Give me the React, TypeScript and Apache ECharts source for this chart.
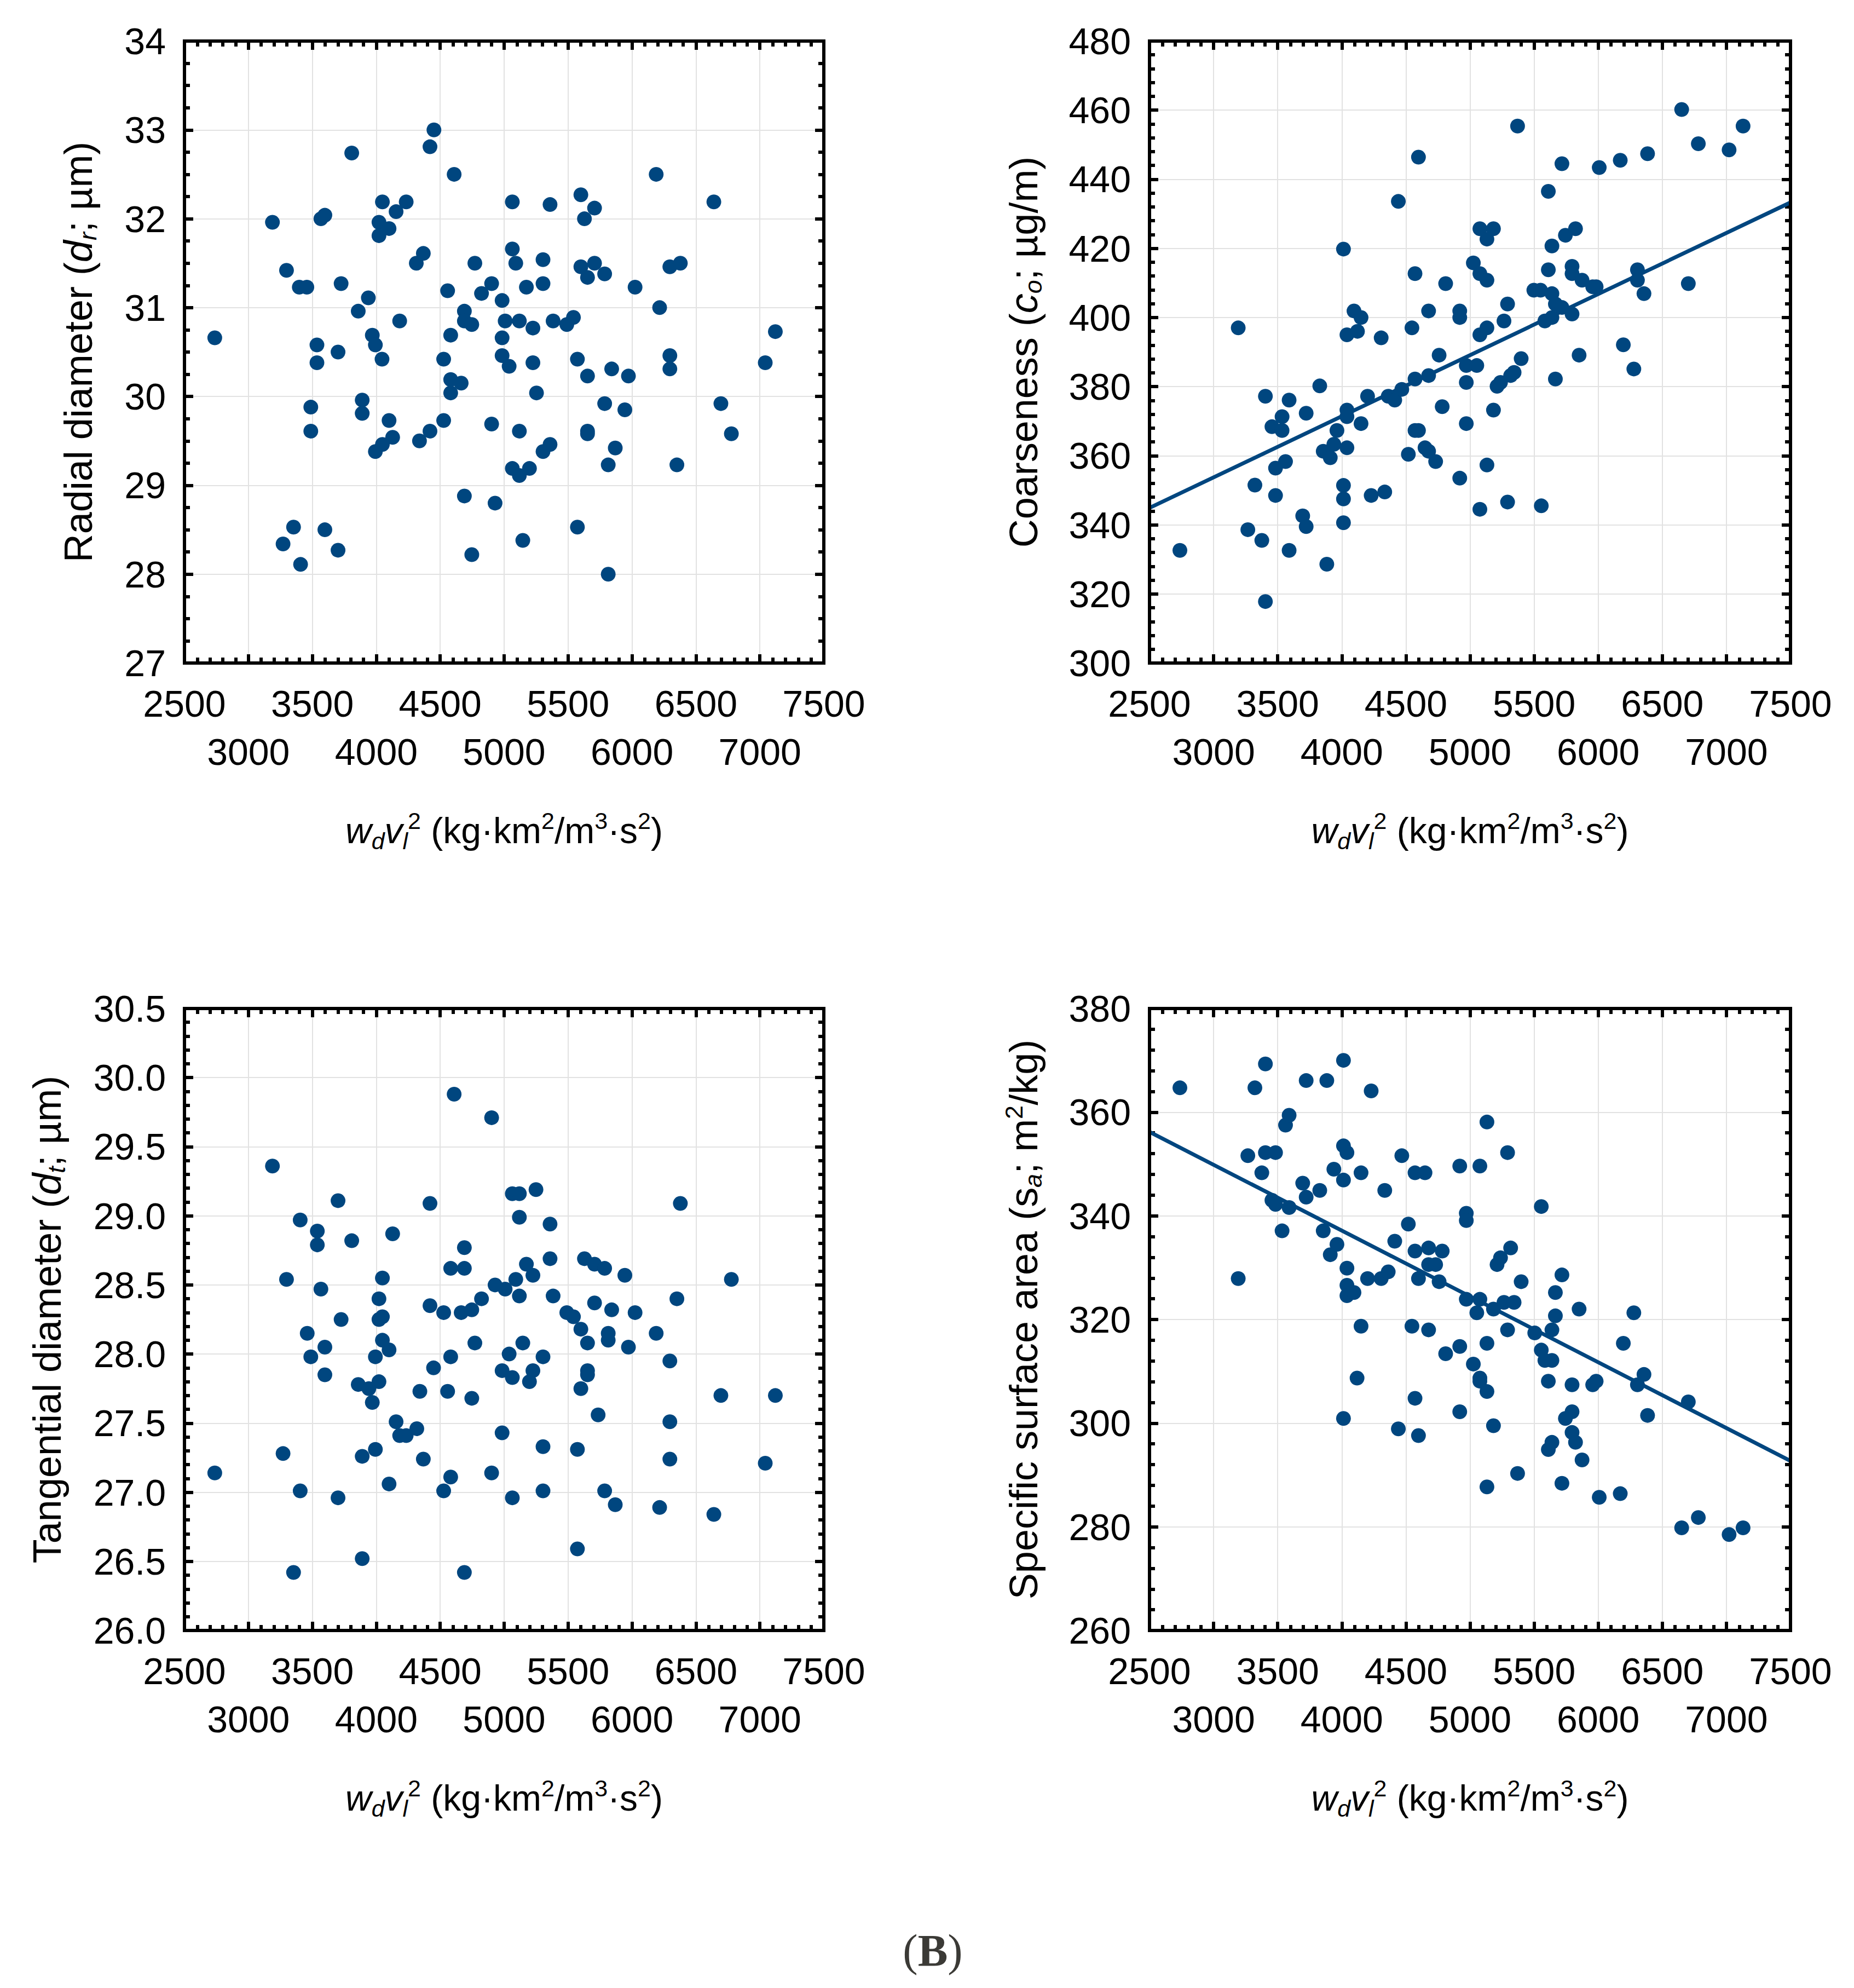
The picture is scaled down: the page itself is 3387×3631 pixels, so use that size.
import React, { useEffect, useRef } from "react";
import * as echarts from "echarts";

const FONT = "'Liberation Sans', Arial, Helvetica, sans-serif";
const SERIF = "'Liberation Serif', 'Times New Roman', serif";
const INK = "#000000";
const DOT = "#00467f";
const GRIDLINE = "#e2e2e2";

// ---------- x axis (shared) ----------
const xMin = 2500;
const xMax = 7500;
const xStep = 500;

// ---------- Radial diameter (top-left) ----------
const radialX = [
  2737, 3188, 3298, 3398, 3457, 3567, 3598, 3536, 3536, 3488,
  3488, 3353, 3271, 3408, 3598, 3701, 3701, 3725, 3808, 3859,
  3938, 3969, 3993, 4045, 3890, 3890, 4100, 4128, 4048, 3993,
  4048, 4021, 4100, 4021, 4155, 4234, 4183, 4313, 4368, 4420,
  4451, 4609, 4558, 4338, 4420, 4527, 4527, 4582, 4582, 4664,
  4582, 4689, 4689, 4747, 4771, 4823, 4902, 4984, 5008, 4984,
  4984, 5039, 5119, 5064, 5064, 5091, 5174, 5225, 5225, 5253,
  5304, 5304, 5359, 5383, 5490, 5542, 5573, 5652, 5600, 5628,
  5707, 5600, 5707, 5652, 5786, 6024, 5841, 5972, 5786, 5944,
  5652, 5652, 5869, 5814, 5814, 5573, 5359, 5304, 5119, 5064,
  5119, 5198, 4902, 4689, 4929, 4747, 5146, 6189, 6216, 6296,
  6378, 6296, 6296, 6351, 6640, 6695, 6777, 7042, 7121,
];
const radialY = [
  30.66, 31.96, 31.42, 31.23, 31.23, 32.0, 32.04, 30.58, 30.38, 29.88,
  29.61, 28.53, 28.34, 28.11, 28.5, 28.27, 30.5, 31.27, 32.74, 30.96,
  31.11, 30.69, 30.58, 30.42, 29.96, 29.81, 29.73, 29.54, 29.46, 29.38,
  32.19, 31.96, 31.89, 31.81, 32.08, 32.19, 30.85, 31.5, 31.61, 32.81,
  33.0, 32.5, 31.19, 29.5, 29.61, 29.73, 30.42, 30.69, 30.19, 30.15,
  30.04, 30.96, 30.85, 30.81, 31.5, 31.16, 31.27, 31.08, 30.85, 30.66,
  30.46, 30.34, 30.85, 32.19, 31.66, 31.5, 31.23, 30.77, 30.38, 30.04,
  31.54, 31.27, 32.16, 30.85, 30.81, 30.89, 30.42, 30.23, 32.27, 32.0,
  32.12, 31.46, 31.5, 31.34, 31.38, 31.23, 30.31, 30.23, 29.92, 29.85,
  29.61, 29.58, 29.42, 29.23, 28.0, 28.53, 29.46, 29.38, 29.61, 29.19,
  29.11, 29.19, 29.69, 28.88, 28.8, 28.22, 28.38, 32.5, 31.0, 31.46,
  31.5, 30.46, 30.31, 29.23, 32.19, 29.92, 29.58, 30.38, 30.73,
];

// ---------- Coarseness (top-right) ----------
const coarseX = [
  2737, 3192, 3267, 3322, 3376, 3404, 3404, 3455, 3483, 3483,
  3534, 3534, 3561, 3589, 3589, 3695, 3722, 3722, 3828, 3855,
  3910, 3938, 3962, 3883, 4013, 4013, 4013, 4013, 4040, 4040,
  4040, 4040, 4095, 4150, 4122, 4150, 4201, 4229, 4307, 4335,
  4362, 4413, 4468, 4441, 4519, 4547, 4571, 4571, 4571, 4598,
  4598, 4649, 4677, 4732, 4677, 4677, 4759, 4783, 4810, 4920,
  4920, 4920, 4971, 4971, 4971, 5026, 5053, 5077, 5077, 5077,
  5132, 5132, 5183, 5132, 5132, 5077, 5183, 5211, 5238, 5265,
  5293, 5293, 5317, 5344, 5399, 5371, 5498, 5550, 5556, 5584,
  5611, 5611, 5639, 5639, 5639, 5666, 5717, 5666, 5717, 5744,
  5796, 5796, 5796, 5823, 5874, 5957, 5984, 5851, 6008, 6172,
  6196, 6278, 6306, 6306, 6357, 6385, 6651, 6703, 6781, 7021, 7130,
];
const coarseY = [
  332.6, 397.0, 338.6, 351.5, 335.5, 377.2, 317.8, 368.4, 356.4, 348.5,
  371.3, 367.3, 358.3, 376.1, 332.6, 342.6, 339.5, 372.3, 380.2, 361.3,
  359.4, 363.3, 367.3, 328.6, 419.8, 351.4, 347.5, 340.6, 373.2, 371.3,
  362.3, 395.0, 401.9, 400.0, 396.0, 369.3, 377.2, 348.5, 394.1, 349.5,
  377.2, 376.1, 379.2, 433.6, 360.4, 397.0, 412.7, 382.2, 367.3, 367.3,
  446.4, 362.3, 361.3, 358.3, 383.2, 401.9, 389.1, 374.2, 409.8, 401.9,
  400.0, 353.5, 386.1, 381.2, 369.3, 415.8, 386.1, 412.7, 395.0, 425.7,
  410.8, 422.7, 425.7, 397.0, 357.3, 344.5, 373.2, 380.1, 381.2, 399.0,
  403.9, 346.6, 383.2, 384.1, 388.1, 455.4, 407.9, 407.9, 345.5, 399.0,
  413.8, 436.5, 420.7, 406.9, 400.0, 403.9, 402.9, 382.2, 444.5, 423.8,
  414.8, 412.7, 401.0, 425.7, 410.8, 408.9, 408.9, 389.1, 443.4, 445.5,
  392.1, 385.1, 413.8, 410.8, 406.9, 447.4, 460.2, 409.8, 450.3, 448.5, 455.4,
];
const coarseFitX = [2500, 7500];
const coarseFitY = [344.9, 433.3];

// ---------- Tangential diameter (bottom-left) ----------
const tangX = [
  2737, 3188, 3271, 3298, 3353, 3405, 3405, 3460, 3488, 3539,
  3539, 3567, 3598, 3598, 3701, 3701, 3725, 3808, 3859, 3890,
  3890, 3942, 3969, 3993, 3993, 4021, 4021, 4048, 4048, 4048,
  4021, 4100, 4128, 4100, 4155, 4183, 4234, 4317, 4341, 4368,
  4420, 4420, 4448, 4527, 4558, 4527, 4582, 4582, 4582, 4609,
  4689, 4689, 4664, 4747, 4747, 4689, 4771, 4823, 4902, 4929,
  4902, 4984, 4984, 5008, 5039, 5064, 5119, 5119, 5091, 5119,
  5064, 5064, 5146, 5174, 5198, 5225, 5225, 5249, 5304, 5304,
  5304, 5359, 5359, 5383, 5490, 5542, 5573, 5573, 5600, 5600,
  5628, 5652, 5652, 5652, 5707, 5707, 5735, 5786, 5814, 5814,
  5786, 5841, 5869, 5944, 5972, 6024, 6189, 6216, 6296, 6296,
  6296, 6351, 6378, 6640, 6695, 6777, 7042, 7121,
];
const tangY = [
  27.14, 29.36, 27.28, 28.54, 26.42, 28.97, 27.01, 28.15, 27.98, 28.89,
  28.79, 28.47, 28.05, 27.85, 29.11, 26.96, 28.25, 28.82, 27.78, 27.26,
  26.52, 27.75, 27.65, 27.98, 27.31, 28.4, 28.25, 28.27, 28.55, 28.1,
  27.8, 28.03, 28.87, 27.06, 27.51, 27.41, 27.41, 27.46, 27.73, 27.24,
  29.09, 28.35, 27.9, 28.3, 27.73, 27.01, 28.62, 27.98, 27.11, 29.88,
  28.77, 28.62, 28.3, 28.32, 27.68, 26.42, 28.08, 28.4, 29.71, 28.5,
  27.14, 27.88, 27.43, 28.47, 28.0, 29.16, 29.16, 28.99, 28.54, 28.42,
  27.83, 26.96, 28.08, 28.65, 27.8, 28.57, 27.88, 29.19, 27.98, 27.33,
  27.01, 28.94, 28.69, 28.42, 28.3, 28.27, 27.31, 26.59, 28.18, 27.75,
  28.69, 28.08, 27.88, 27.85, 28.65, 28.37, 27.56, 28.62, 28.15, 28.1,
  27.01, 28.32, 26.91, 28.57, 28.05, 28.3, 28.15, 26.89, 27.95, 27.51,
  27.24, 28.4, 29.09, 26.84, 27.7, 28.54, 27.21, 27.7,
];

// ---------- Specific surface area (bottom-right) ----------
const surfX = [
  2737, 3192, 3267, 3322, 3376, 3404, 3404, 3455, 3483, 3483,
  3534, 3561, 3589, 3589, 3695, 3722, 3722, 3828, 3855, 3883,
  3910, 3938, 3962, 4013, 4013, 4040, 4013, 4040, 4040, 4040,
  4095, 4150, 4150, 4119, 4013, 4201, 4229, 4307, 4335, 4362,
  4413, 4441, 4468, 4519, 4547, 4571, 4571, 4571, 4598, 4598,
  4649, 4677, 4677, 4677, 4732, 4759, 4783, 4810, 4920, 4920,
  4920, 4971, 4971, 4971, 5026, 5053, 5077, 5077, 5077, 5077,
  5132, 5132, 5132, 5132, 5183, 5183, 5211, 5238, 5265, 5293,
  5293, 5317, 5344, 5371, 5399, 5505, 5556, 5556, 5584, 5611,
  5611, 5639, 5639, 5639, 5666, 5666, 5717, 5717, 5796, 5796,
  5744, 5796, 5823, 5851, 5874, 5957, 5984, 6008, 6172, 6196,
  6278, 6306, 6357, 6385, 6651, 6703, 6781, 7021, 7130,
];
const surfY = [
  364.7, 327.9, 351.6, 364.7, 348.3, 369.3, 352.2, 343.0, 342.2, 352.2,
  337.1, 357.5, 359.4, 341.6, 346.3, 343.6, 366.1, 344.9, 337.1, 366.1,
  332.5, 349.0, 334.5, 370.0, 353.5, 352.2, 346.9, 329.9, 326.6, 324.6,
  325.2, 348.3, 318.7, 308.7, 300.9, 327.9, 364.1, 327.9, 344.9, 329.2,
  335.1, 298.9, 351.6, 338.4, 318.7, 348.3, 333.2, 304.8, 327.9, 297.6,
  348.3, 333.8, 330.6, 318.0, 330.6, 327.3, 333.2, 313.4, 349.6, 314.8,
  302.2, 340.5, 339.1, 323.9, 311.4, 321.3, 349.6, 323.9, 308.7, 308.1,
  358.1, 315.4, 306.1, 287.7, 322.0, 299.5, 330.6, 331.9, 323.3, 352.2,
  318.0, 333.8, 323.3, 290.3, 327.3, 317.4, 341.8, 314.1, 312.1, 308.1,
  294.9, 312.1, 318.0, 296.3, 325.2, 320.7, 328.6, 288.4, 307.4, 302.2,
  300.9, 298.2, 296.3, 322.0, 292.9, 307.4, 308.1, 285.7, 286.4, 315.4,
  321.3, 307.4, 309.4, 301.5, 279.8, 304.1, 281.8, 278.5, 279.8,
];
const surfFitX = [2500, 7500];
const surfFitY = [356.2, 292.7];

// ---------- texts ----------
const xTitle =
  "{i|w}{sub|d}{i|v}{sub|l}{sup|2}{n| (kg·km}{sup|2}{n|/m}{sup|3}{n|·s}{sup|2}{n|)}";
const radialTitle = "{n|Radial diameter (}{i|d}{sub|r}{n|; µm)}";
const coarseTitle = "{n|Coarseness (}{i|c}{sub|o}{n|; µg/m)}";
const tangTitle = "{n|Tangential diameter (}{i|d}{sub|t}{n|; µm)}";
const surfTitle = "{n|Specific surface area (s}{sub|a}{n|; m}{sup|2}{n|/kg)}";
const panelLabel = "{p|(}{b|B}{p|)}";

const FS = 68; // tick labels

function richFor(size: number, small: number): any {
  return {
    n: { fontSize: size, fontFamily: FONT, color: INK, lineHeight: 80 },
    i: { fontSize: size, fontFamily: FONT, color: INK, fontStyle: "italic", lineHeight: 80 },
    sub: { fontSize: small, fontFamily: FONT, color: INK, fontStyle: "italic", lineHeight: small, verticalAlign: "bottom" },
    sup: { fontSize: small, fontFamily: FONT, color: INK, lineHeight: small, verticalAlign: "top" },
  };
}
const X_RICH = richFor(66, 43);
const Y_RICH = richFor(72, 45);

const pairs = (xs: number[], ys: number[]) => xs.map((x, i) => [x, ys[i]]);
const isOddStep = (v: number) => Math.round(v / xStep) % 2 === 1;

const tickCommon = {
  axisTick: { show: true, inside: true, length: 16, lineStyle: { color: INK, width: 6 } },
  axisLine: { show: false },
};
const xMinor = { show: true, splitNumber: 5, length: 10, lineStyle: { color: INK, width: 6 } };

function xAxes(g: number, gridHeight: number) {
  return [
    {
      // bottom axis: first row of staggered labels (2500, 3500, ...)
      type: "value",
      gridIndex: g,
      position: "bottom",
      min: xMin,
      max: xMax,
      interval: xStep,
      ...tickCommon,
      minorTick: xMinor,
      splitLine: { show: true, showMinLine: false, showMaxLine: false, lineStyle: { color: GRIDLINE, width: 2 } },
      axisLabel: {
        show: true,
        margin: 30,
        fontSize: FS,
        fontFamily: FONT,
        color: INK,
        lineHeight: 88,
        showMinLabel: true,
        showMaxLabel: true,
        formatter: (v: number) => (isOddStep(v) ? String(v) : ""),
      },
      name: xTitle,
      nameLocation: "middle",
      nameGap: 266,
      nameTextStyle: { fontFamily: FONT, color: INK, fontSize: 66, rich: X_RICH },
    },
    {
      // top axis: ticks on the top edge; carries the second row of labels (3000, 4000, ...)
      type: "value",
      gridIndex: g,
      position: "top",
      min: xMin,
      max: xMax,
      interval: xStep,
      ...tickCommon,
      minorTick: xMinor,
      splitLine: { show: false },
      axisLabel: {
        show: true,
        inside: true,
        margin: gridHeight + 30 + 88,
        fontSize: FS,
        fontFamily: FONT,
        color: INK,
        lineHeight: 88,
        showMinLabel: true,
        showMaxLabel: true,
        formatter: (v: number) => (isOddStep(v) ? "" : String(v)),
      },
    },
  ];
}

function yAxes(
  g: number,
  min: number,
  max: number,
  interval: number,
  minorSplit: number,
  decimals: number,
  name: string,
  nameGap: number
) {
  const minor = { show: true, splitNumber: minorSplit, length: 10, lineStyle: { color: INK, width: 6 } };
  return [
    {
      type: "value",
      gridIndex: g,
      position: "left",
      min,
      max,
      interval,
      ...tickCommon,
      minorTick: minor,
      splitLine: { show: true, showMinLine: false, showMaxLine: false, lineStyle: { color: GRIDLINE, width: 2 } },
      axisLabel: {
        show: true,
        margin: 34,
        fontSize: FS,
        fontFamily: FONT,
        color: INK,
        showMinLabel: true,
        showMaxLabel: true,
        formatter: (v: number) => v.toFixed(decimals),
      },
      name,
      nameLocation: "middle",
      nameGap,
      nameTextStyle: { fontFamily: FONT, color: INK, fontSize: 72, rich: Y_RICH },
    },
    {
      type: "value",
      gridIndex: g,
      position: "right",
      min,
      max,
      interval,
      ...tickCommon,
      minorTick: minor,
      splitLine: { show: false },
      axisLabel: { show: false },
    },
  ];
}

const GRID_H = 1136;
const gridBox = (left: number, top: number, width: number) => ({
  left,
  top,
  width,
  height: GRID_H,
  show: true,
  borderColor: INK,
  borderWidth: 6,
  backgroundColor: "transparent",
  z: 10,
});

const scatter = (g: number, xs: number[], ys: number[]) => ({
  type: "scatter",
  xAxisIndex: g * 2,
  yAxisIndex: g * 2,
  data: pairs(xs, ys),
  symbol: "circle",
  symbolSize: 27,
  itemStyle: { color: DOT, opacity: 1 },
  z: 3,
});

const fitLine = (g: number, xs: number[], ys: number[]) => ({
  type: "line",
  xAxisIndex: g * 2,
  yAxisIndex: g * 2,
  data: pairs(xs, ys),
  symbol: "none",
  showSymbol: false,
  lineStyle: { color: DOT, width: 7 },
  z: 2,
});

const option: any = {
  animation: false,
  backgroundColor: "#ffffff",
  grid: [gridBox(337, 75, 1168), gridBox(2100, 75, 1171), gridBox(337, 1842, 1168), gridBox(2100, 1842, 1171)],
  xAxis: [...xAxes(0, GRID_H), ...xAxes(1, GRID_H), ...xAxes(2, GRID_H), ...xAxes(3, GRID_H)],
  yAxis: [
    ...yAxes(0, 27, 34, 1, 4, 0, radialTitle, 154),
    ...yAxes(1, 300, 480, 20, 5, 0, coarseTitle, 190),
    ...yAxes(2, 26, 30.5, 0.5, 5, 1, tangTitle, 211),
    ...yAxes(3, 260, 380, 20, 5, 0, surfTitle, 190),
  ],
  series: [
    scatter(0, radialX, radialY),
    fitLine(1, coarseFitX, coarseFitY),
    scatter(1, coarseX, coarseY),
    scatter(2, tangX, tangY),
    fitLine(3, surfFitX, surfFitY),
    scatter(3, surfX, surfY),
  ],
  graphic: [
    {
      type: "text",
      x: 1704,
      y: 3562,
      style: {
        text: panelLabel,
        align: "center",
        verticalAlign: "middle",
        fill: "#3b3a36",
        font: `82px ${SERIF}`,
        rich: {
          p: { fontFamily: SERIF, fontSize: 82, fill: "#3b3a36" },
          b: { fontFamily: SERIF, fontSize: 82, fontWeight: "bold", fill: "#3b3a36" },
        },
      },
    },
  ],
};

export default function App() {
  const ref = useRef<HTMLDivElement>(null);
  useEffect(() => {
    if (!ref.current) return;
    const chart = echarts.init(ref.current, null, { renderer: "svg" });
    chart.setOption(option);
    return () => chart.dispose();
  }, []);
  return (
    <div
      ref={ref}
      style={{ position: "absolute", left: 0, top: 0, width: 3387, height: 3631, background: "#ffffff" }}
    />
  );
}
